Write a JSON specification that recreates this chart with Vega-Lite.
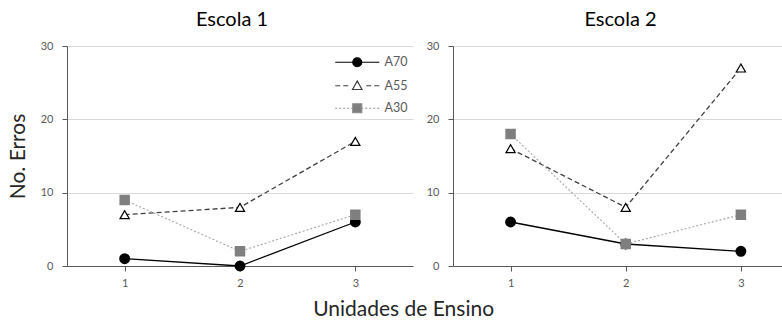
{
  "$schema": "https://vega.github.io/schema/vega-lite/v6.json",
  "padding": {"left": 7, "top": 10, "right": 0, "bottom": 0},
  "background": "white",
  "data": {"values": [
    {"escola": "Escola 1", "serie": "A70", "unidade": 1, "erros": 1},
    {"escola": "Escola 1", "serie": "A70", "unidade": 2, "erros": 0},
    {"escola": "Escola 1", "serie": "A70", "unidade": 3, "erros": 6},
    {"escola": "Escola 1", "serie": "A55", "unidade": 1, "erros": 7},
    {"escola": "Escola 1", "serie": "A55", "unidade": 2, "erros": 8},
    {"escola": "Escola 1", "serie": "A55", "unidade": 3, "erros": 17},
    {"escola": "Escola 1", "serie": "A30", "unidade": 1, "erros": 9},
    {"escola": "Escola 1", "serie": "A30", "unidade": 2, "erros": 2},
    {"escola": "Escola 1", "serie": "A30", "unidade": 3, "erros": 7},
    {"escola": "Escola 2", "serie": "A70", "unidade": 1, "erros": 6},
    {"escola": "Escola 2", "serie": "A70", "unidade": 2, "erros": 3},
    {"escola": "Escola 2", "serie": "A70", "unidade": 3, "erros": 2},
    {"escola": "Escola 2", "serie": "A55", "unidade": 1, "erros": 16},
    {"escola": "Escola 2", "serie": "A55", "unidade": 2, "erros": 8},
    {"escola": "Escola 2", "serie": "A55", "unidade": 3, "erros": 27},
    {"escola": "Escola 2", "serie": "A30", "unidade": 1, "erros": 18},
    {"escola": "Escola 2", "serie": "A30", "unidade": 2, "erros": 3},
    {"escola": "Escola 2", "serie": "A30", "unidade": 3, "erros": 7}
  ]},
  "config": {
    "font": "Lato",
    "view": {"stroke": null},
    "axis": {
      "labelColor": "#595959", "labelFontSize": 11, "labelFont": "Lato",
      "domainColor": "#595959", "tickColor": "#595959", "gridColor": "#d9d9d9",
      "titleFont": "Lato", "titleFontWeight": "normal", "titleColor": "#262626", "titleFontSize": 21,
      "tickSize": 5
    },
    "title": {"fontSize": 20, "fontWeight": "normal", "color": "#000000", "font": "Lato"}
  },
  "title": {"text": "Unidades de Ensino", "orient": "bottom", "fontSize": 21, "fontWeight": "normal", "anchor": "middle", "offset": 11, "color": "#262626", "dx": 9},
  "spacing": 13,
  "resolve": {
    "scale": {"shape": "independent", "fill": "independent", "stroke": "independent"},
    "legend": {"shape": "independent", "fill": "independent", "stroke": "independent"}
  },
  "hconcat": [
    {
      "width": 346, "height": 220,
      "title": {"text": "Escola 1", "dx": -8, "offset": 10},
      "transform": [{"filter": "datum.escola == 'Escola 1'"}],
      "encoding": {
        "x": {"field": "unidade", "type": "quantitative", "scale": {"domain": [0.5, 3.5], "nice": false, "zero": false},
              "axis": {"values": [1, 2, 3], "title": null, "grid": false, "format": "d", "labelPadding": 6}},
        "y": {"field": "erros", "type": "quantitative", "scale": {"domain": [0, 30], "nice": false},
              "axis": {"values": [0, 10, 20, 30], "title": "No. Erros", "grid": true, "labelPadding": 9, "titlePadding": 12}}
      },
      "layer": [
        {"transform": [{"filter": "datum.serie == 'A70'"}], "mark": {"type": "line", "stroke": "#000000", "strokeWidth": 1.3}},
        {"transform": [{"filter": "datum.serie == 'A55'"}], "mark": {"type": "line", "stroke": "#404040", "strokeWidth": 1.3, "strokeDash": [5, 3]}},
        {"transform": [{"filter": "datum.serie == 'A30'"}], "mark": {"type": "line", "stroke": "#a6a6a6", "strokeWidth": 1.1, "strokeDash": [2, 2]}},
        {"transform": [{"filter": "datum.serie == 'A70'"}], "mark": {"type": "point", "shape": "circle", "filled": true, "fill": "#000000", "stroke": "#000000", "size": 80, "opacity": 1}},
        {"transform": [{"filter": "datum.serie == 'A55'"}], "mark": {"type": "point", "shape": "triangle-up", "filled": true, "fill": "#ffffff", "stroke": "#000000", "strokeWidth": 1.2, "size": 85, "opacity": 1}},
        {"transform": [{"filter": "datum.serie == 'A30'"}], "mark": {"type": "point", "shape": "square", "filled": true, "fill": "#7f7f7f", "stroke": "#7f7f7f", "size": 72, "opacity": 1}},
        {
          "mark": {"type": "point", "filled": true, "opacity": 0},
          "encoding": {
            "shape": {"field": "serie", "type": "nominal",
              "scale": {"domain": ["A70", "A55", "A30"], "range": [
                "M-4.4,0H4.4M0.9,0A0.9,0.9,0,1,1,-0.9,0A0.9,0.9,0,1,1,0.9,0Z",
                "M-4.4,0H-3.4M-2.8,0H-1.8M1.8,0H2.8M3.4,0H4.4M0,-0.95L0.95,0.75L-0.95,0.75Z",
                "M-4.4,0H-4M-3.6,0H-3.2M-2.8,0H-2.4M-2,0H-1.6M-1.2,0H-0.9M0.9,0H1.2M1.6,0H2M2.4,0H2.8M3.2,0H3.6M4,0H4.4M-0.9,-0.9H0.9V0.9H-0.9Z"
              ]},
              "legend": {"title": null, "orient": "none", "legendX": 284, "legendY": 10, "symbolSize": 100, "labelOffset": 21, "labelFontSize": 12.5, "labelColor": "#595959", "rowPadding": 8.5, "symbolStrokeWidth": 1.2, "padding": 0, "symbolFillColor": "#000000"}},
            "fill": {"field": "serie", "type": "nominal",
              "scale": {"domain": ["A70", "A55", "A30"], "range": ["#000000", "#ffffff", "#7f7f7f"]},
              "legend": {"title": null, "orient": "none", "legendX": 284, "legendY": 10, "symbolSize": 100, "labelOffset": 21, "labelFontSize": 12.5, "labelColor": "#595959", "rowPadding": 8.5, "symbolStrokeWidth": 1.2, "padding": 0, "symbolFillColor": "#000000"}},
            "stroke": {"field": "serie", "type": "nominal",
              "scale": {"domain": ["A70", "A55", "A30"], "range": ["#000000", "#404040", "#8c8c8c"]},
              "legend": {"title": null, "orient": "none", "legendX": 284, "legendY": 10, "symbolSize": 100, "labelOffset": 21, "labelFontSize": 12.5, "labelColor": "#595959", "rowPadding": 8.5, "symbolStrokeWidth": 1.2, "padding": 0, "symbolFillColor": "#000000"}}
          }
        }
      ]
    },
    {
      "width": 329, "height": 220,
      "title": {"text": "Escola 2", "dx": 3, "offset": 10},
      "transform": [{"filter": "datum.escola == 'Escola 2'"}],
      "encoding": {
        "x": {"field": "unidade", "type": "quantitative", "scale": {"domain": [0.5, 3.357], "nice": false, "zero": false},
              "axis": {"values": [1, 2, 3], "title": null, "grid": false, "format": "d", "labelPadding": 6}},
        "y": {"field": "erros", "type": "quantitative", "scale": {"domain": [0, 30], "nice": false},
              "axis": {"values": [0, 10, 20, 30], "title": null, "grid": true, "labelPadding": 9}}
      },
      "layer": [
        {"transform": [{"filter": "datum.serie == 'A70'"}], "mark": {"type": "line", "stroke": "#000000", "strokeWidth": 1.3}},
        {"transform": [{"filter": "datum.serie == 'A55'"}], "mark": {"type": "line", "stroke": "#404040", "strokeWidth": 1.3, "strokeDash": [5, 3]}},
        {"transform": [{"filter": "datum.serie == 'A30'"}], "mark": {"type": "line", "stroke": "#a6a6a6", "strokeWidth": 1.1, "strokeDash": [2, 2]}},
        {"transform": [{"filter": "datum.serie == 'A70'"}], "mark": {"type": "point", "shape": "circle", "filled": true, "fill": "#000000", "stroke": "#000000", "size": 80, "opacity": 1}},
        {"transform": [{"filter": "datum.serie == 'A55'"}], "mark": {"type": "point", "shape": "triangle-up", "filled": true, "fill": "#ffffff", "stroke": "#000000", "strokeWidth": 1.2, "size": 85, "opacity": 1}},
        {"transform": [{"filter": "datum.serie == 'A30'"}], "mark": {"type": "point", "shape": "square", "filled": true, "fill": "#7f7f7f", "stroke": "#7f7f7f", "size": 72, "opacity": 1}}
      ]
    }
  ]
}
